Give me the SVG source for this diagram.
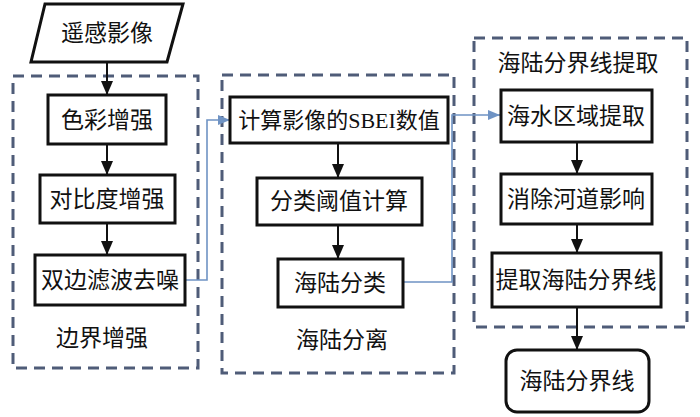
<svg xmlns="http://www.w3.org/2000/svg" width="700" height="417" viewBox="0 0 700 417">
<defs>
<marker id="ab" viewBox="0 0 14 12" refX="14" refY="6" markerWidth="14" markerHeight="12" markerUnits="userSpaceOnUse" orient="auto"><path d="M0,0 L14,6 L0,12 Z" fill="#111"/></marker>
<marker id="abl" viewBox="0 0 12 10" refX="12" refY="5" markerWidth="12" markerHeight="10" markerUnits="userSpaceOnUse" orient="auto"><path d="M0,0 L12,5 L0,10 Z" fill="#6f93c4"/></marker>
</defs>
<style>
.box{fill:#fff;stroke:#111;stroke-width:3}
.grp{fill:none;stroke:#4f5c78;stroke-width:3;stroke-dasharray:11 7}
.t{font-family:"Noto Sans CJK SC","Liberation Serif",serif;font-size:23px;fill:#111;text-anchor:middle}
.s{font-size:22px}
.lat{font-family:"Liberation Serif",serif}
.ln{fill:none;stroke:#111;stroke-width:2}
.bl{fill:none;stroke:#6f93c4;stroke-width:1.6}
</style>
<rect width="700" height="417" fill="#fff"/>
<g id="groups">
<rect class="grp" x="13" y="76" width="185" height="292"/>
<rect class="grp" x="222" y="75" width="232" height="298"/>
<rect class="grp" x="474" y="38" width="213" height="289"/>
</g>
<g id="group-labels">
<text class="t" x="102" y="346">边界增强</text>
<text class="t" x="342" y="348">海陆分离</text>
<text class="t" x="578" y="71">海陆分界线提取</text>
</g>
<g id="connectors">
<line class="ln" x1="107" y1="62" x2="107" y2="95" marker-end="url(#ab)"/>
<line class="ln" x1="107" y1="144" x2="107" y2="175" marker-end="url(#ab)"/>
<line class="ln" x1="107" y1="223" x2="107" y2="255" marker-end="url(#ab)"/>
<line class="ln" x1="338" y1="143" x2="338" y2="178" marker-end="url(#ab)"/>
<line class="ln" x1="338" y1="225" x2="338" y2="259" marker-end="url(#ab)"/>
<line class="ln" x1="577" y1="142" x2="577" y2="174" marker-end="url(#ab)"/>
<line class="ln" x1="577" y1="224" x2="577" y2="253" marker-end="url(#ab)"/>
<line class="ln" x1="577" y1="307" x2="577" y2="350" marker-end="url(#ab)"/>
<polyline class="bl" points="185,280 207,280 207,120 230,120" marker-end="url(#abl)"/>
<polyline class="bl" points="403,282 452,282 452,115 500,115" marker-end="url(#abl)"/>
</g>
<g id="n-input">
<polygon class="box" points="45,4 183,4 167,62 31,62" stroke-width="2.5"/>
<text class="t" x="107" y="41">遥感影像</text>
</g>
<g id="n-color">
<rect class="box" x="48" y="95" width="118" height="49"/>
<text class="t" x="107" y="128">色彩增强</text>
</g>
<g id="n-contrast">
<rect class="box" x="40" y="175" width="135" height="48"/>
<text class="t" x="107" y="207">对比度增强</text>
</g>
<g id="n-bilateral">
<rect class="box" x="35" y="255" width="150" height="50"/>
<text class="t" x="110" y="288">双边滤波去噪</text>
</g>
<g id="n-sbei">
<rect class="box" x="230" y="97" width="218" height="46"/>
<text class="t s" x="339" y="128">计算影像的<tspan class="lat">SBEI</tspan>数值</text>
</g>
<g id="n-threshold">
<rect class="box" x="257" y="178" width="165" height="47"/>
<text class="t" x="339" y="209">分类阈值计算</text>
</g>
<g id="n-classify">
<rect class="box" x="278" y="259" width="125" height="48"/>
<text class="t" x="340" y="291">海陆分类</text>
</g>
<g id="n-water">
<rect class="box" x="501" y="90" width="151" height="52"/>
<text class="t" x="576" y="124">海水区域提取</text>
</g>
<g id="n-river">
<rect class="box" x="501" y="174" width="151" height="50"/>
<text class="t" x="576" y="207">消除河道影响</text>
</g>
<g id="n-extract">
<rect class="box" x="492" y="253" width="169" height="54"/>
<text class="t" x="576" y="288">提取海陆分界线</text>
</g>
<g id="n-output">
<rect class="box" x="506" y="350" width="143" height="62" rx="11" stroke-width="2.5"/>
<text class="t" x="577" y="389">海陆分界线</text>
</g>
</svg>
